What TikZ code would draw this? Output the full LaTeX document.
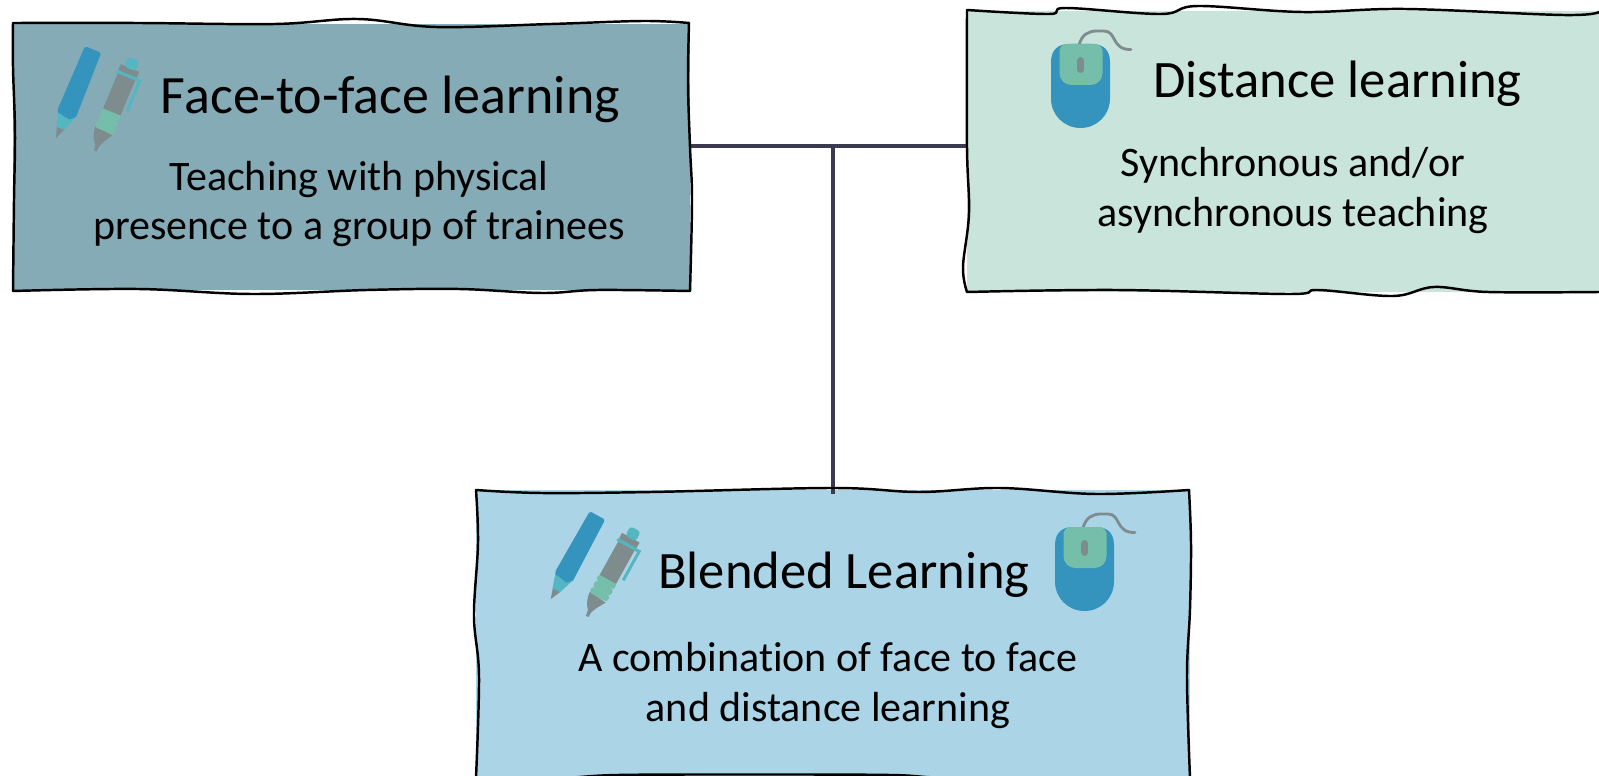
\documentclass[tikz,border=0pt]{standalone}
\usepackage{fontspec}
\setmainfont{Carlito}[Ligatures=NoCommon]
\definecolor{faceFill}{HTML}{85ABB6}
\definecolor{distFill}{HTML}{C9E4DB}
\definecolor{blendFill}{HTML}{ABD5E7}
\definecolor{linkCol}{HTML}{3C3A50}
\definecolor{iconBlue}{HTML}{3594BD}
\definecolor{iconTeal}{HTML}{54B6C1}
\definecolor{iconGreen}{HTML}{75BEA9}
\definecolor{iconGrey}{HTML}{7F8C8E}
\tikzset{
  boxfill/.style={minimum width=#1,inner sep=0pt,outer sep=0pt},
  sketch/.style={black,line width=.7pt,smooth,tension=.6,line cap=round},
  titletext/.style={anchor=base,font=\fontsize{#1}{18}\selectfont},
  subtext/.style={anchor=center,align=center,font=\fontsize{11.95}{14.2}\selectfont},
  linkline/.style={linkCol,line width=1.05pt},
}
\newcommand{\pencilicon}[3]{
\begin{scope}[shift={(#1,#2)},rotate=#3]
\fill[iconTeal] (-3.5,-10)--(-9.5,-28)--(10.5,-28)--(4.5,-10)--cycle;
\fill[iconGrey] (0,0)--(-3.5,-10.5)--(4.5,-10.5)--cycle;
\fill[iconBlue,rounded corners=.5pt] (-9.5,-26)--(-6.5,-23)--(-3.5,-25)--(-1,-22)--(2,-24)--(5,-21)--(7.5,-25)--(10.5,-26)--(9,-96)--(-8.5,-96)--cycle;
\end{scope}
}
\newcommand{\penicon}[3]{
\begin{scope}[shift={(#1,#2)},rotate=#3]
\fill[iconGrey] (-1.3,-1)--(-2.5,-7) .. controls (-6,-11) and (-9,-15) .. (-9.5,-24)--(9.5,-22) .. controls (5,-15) and (2.5,-10) .. (1.5,-6)--(1.3,-1)--cycle;
\foreach \gripY in {-23,-30,-37}
  \fill[iconGreen,rounded corners=.8pt] (-10,\gripY) rectangle (10.3,\gripY-7);
\fill[iconGrey] (-9.2,-43.5) rectangle (9.5,-85);
\fill[iconGrey] (-10,-85) rectangle (10,-91);
\fill[iconTeal,rounded corners=1pt] (-6,-90) rectangle (6,-101);
\draw[iconTeal,line width=.85pt] (-11,-83)--(14,-83)--(14,-50);
\end{scope}
}
\newcommand{\mouseicon}[2]{
\begin{scope}[shift={(#1,#2)}]
\draw[iconGrey,line width=.8pt,line cap=round] (28,1) .. controls (31,-10) and (38,-13) .. (46,-13) -- (53,-13) .. controls (66,-13) and (60,6) .. (80,5.5);
\fill[iconBlue] (0,18) .. controls (0,5) and (8,0) .. (18,0)--(41,0) .. controls (51,0) and (59,5) .. (59,18)--(59,54.5) .. controls (59,71) and (46,84) .. (29.5,84) .. controls (13,84) and (0,71) .. (0,54.5)--cycle;
\fill[iconGreen] (8.5,6) .. controls (10,2) and (12,0) .. (16,0)--(44,0) .. controls (48,0) and (50,2) .. (51.5,6)--(51.5,29) .. controls (51.5,36) and (46,41) .. (40,41)--(20,41) .. controls (14,41) and (8.5,36) .. (8.5,29)--cycle;
\fill[iconGrey,rounded corners=.9pt] (26.2,13) rectangle (32.8,29);
\end{scope}
}
\begin{document}
\begin{tikzpicture}[x=0.01cm,y=-0.01cm]
\useasboundingbox (0,0) rectangle (1599,776);
\node[boxfill=6.77cm,minimum height=2.66cm,fill=faceFill] (faceBox) at (351.5,157) {};
\node[boxfill=6.53cm,minimum height=2.81cm,fill=distFill] (distBox) at (1293.5,151.5) {};
\node[boxfill=7.14cm,minimum height=2.90cm,fill=blendFill] (blendBox) at (833,635) {};
\coordinate (tiePoint) at (833,146);
\draw[linkline] (faceBox.east |- tiePoint)--(distBox.west |- tiePoint);
\draw[linkline] (tiePoint)--([yshift=-.04cm]blendBox.north);
\draw[sketch] plot coordinates {(13,23) (138,23) (275,24) (358,19) (436,27) (551,24) (643,21) (689,23)};
\draw[sketch] plot coordinates {(689,23) (688,83) (690,147) (692,200) (690,291)};
\draw[sketch] plot coordinates {(690,291) (597,290) (542,293) (459,289) (367,290) (252,294) (138,289) (13,291)};
\draw[sketch] plot coordinates {(13,291) (14,200) (15,133) (13,67) (13,23)};
\draw[sketch] plot coordinates {(967,10) (1049,14) (1066,8) (1161,14) (1198,6) (1302,12) (1405,9) (1563,15) (1599,12)};
\draw[sketch] plot coordinates {(967,10) (967,147) (969,213) (963,267) (967,292)};
\draw[sketch] plot coordinates {(967,292) (1116,290) (1289,294) (1318,290) (1393,296) (1434,287) (1488,292) (1599,292)};
\draw[sketch] plot coordinates {(476,490) (541,493) (651,492) (833,488) (919,492) (1000,488) (1096,494) (1189,490)};
\draw[sketch] plot coordinates {(1189,490) (1191,543) (1190,609) (1187,676) (1190,778)};
\draw[sketch] plot coordinates {(476,490) (478,543) (474,616) (479,676) (476,778)};
\draw[sketch] plot coordinates {(476,778) (560,778) (618,775) (747,774.5) (890,775) (960,778) (1190,778)};
\pencilicon{56}{138}{-22.6}
\penicon{95}{152}{-22.6}
\mouseicon{1051}{44}
\pencilicon{550.7}{599.3}{-29}
\penicon{586.7}{617.3}{-29}
\mouseicon{1055}{527}
\node[titletext=15.35] (faceTitle) at (390.5,114) {Face-to-face learning};
\node[subtext] (faceText) at (359,204) {Teaching with physical\\presence to a group of trainees};
\node[titletext=14.97] (distTitle) at (1337.5,98) {Distance learning};
\node[subtext] (distText) at (1293,190.5) {Synchronous and/or\\asynchronous teaching};
\node[titletext=14.95] (blendTitle) at (844,588) {Blended Learning};
\node[subtext] (blendText) at (828,685.5) {A combination of face to face\\and distance learning};
\end{tikzpicture}
\end{document}
